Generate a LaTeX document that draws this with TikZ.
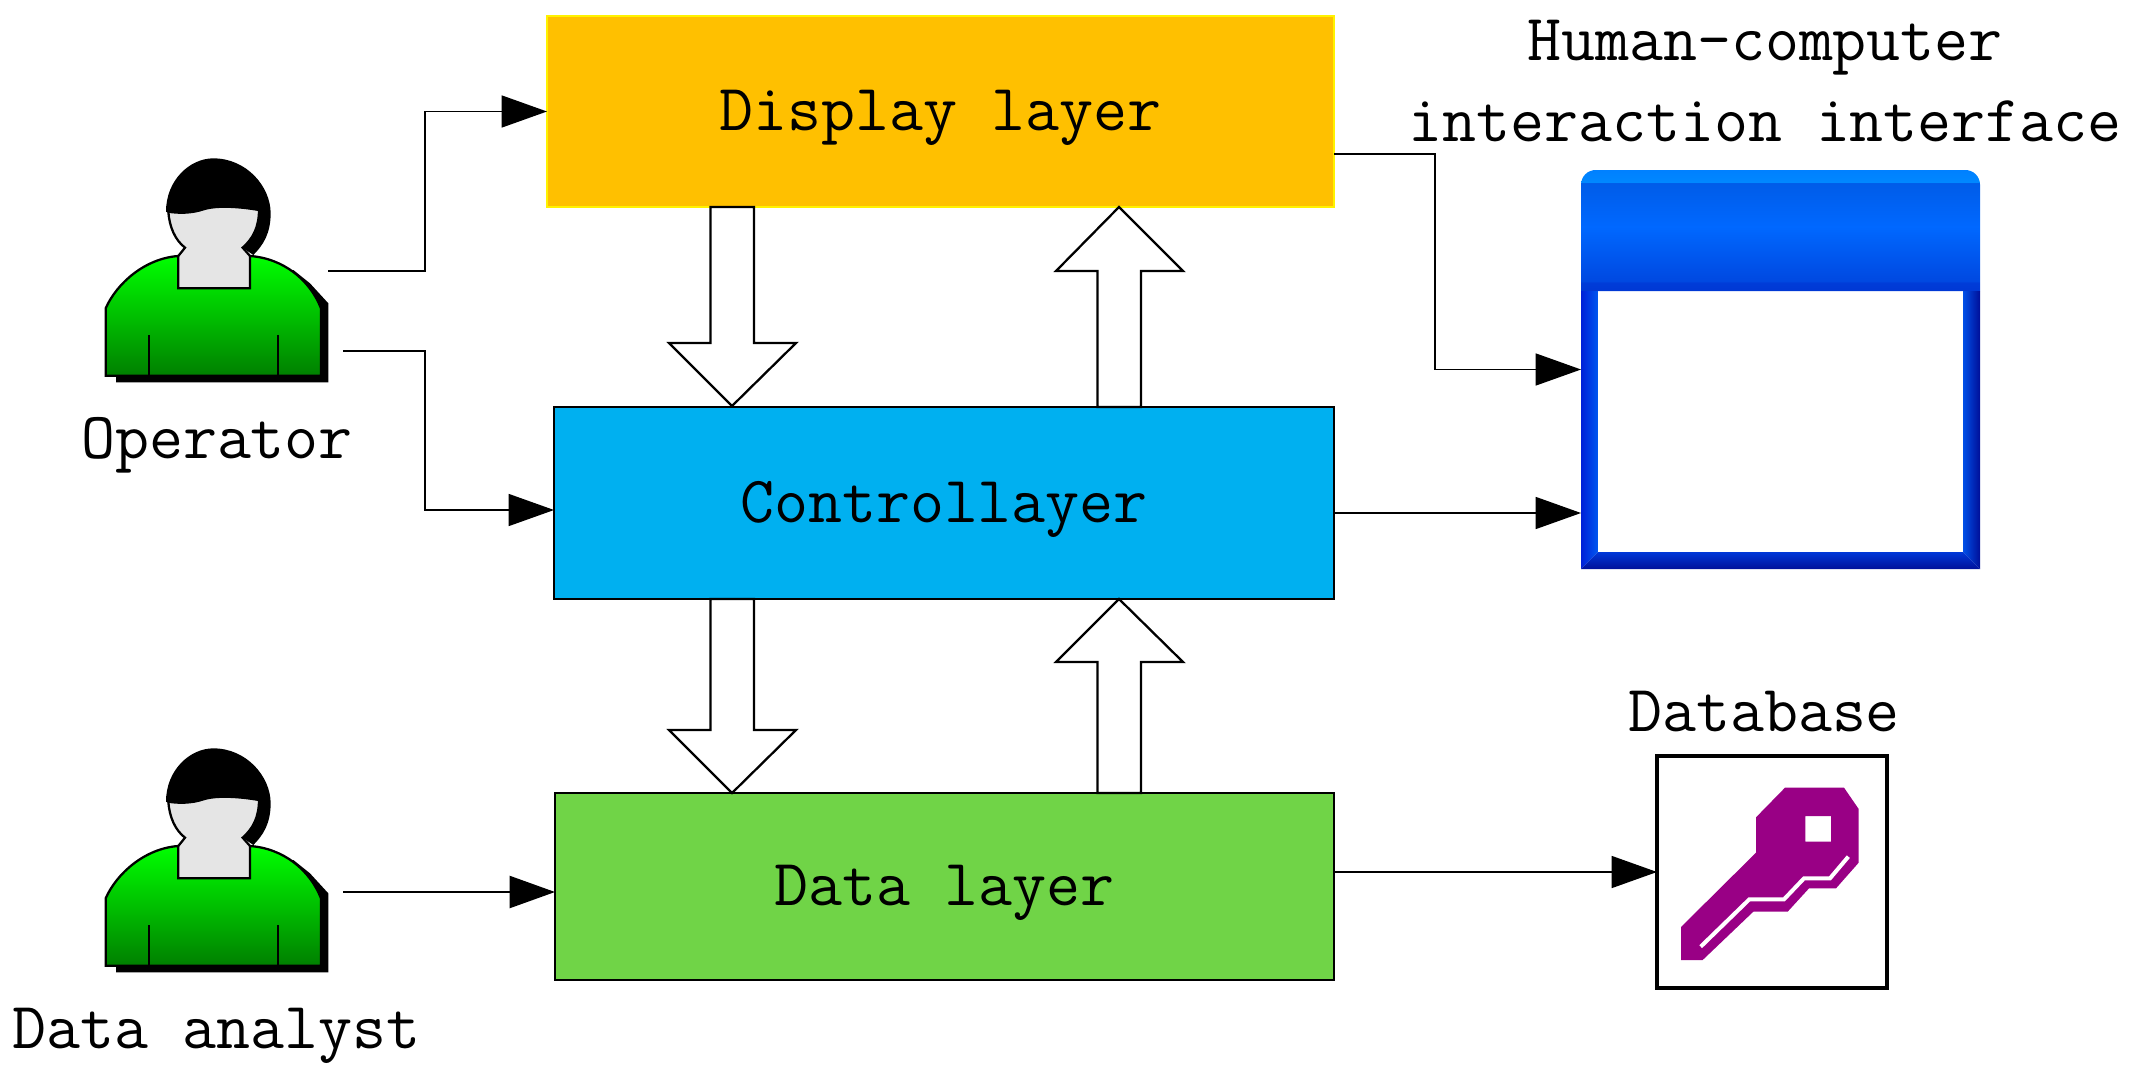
\documentclass[tikz,border=0pt]{standalone}
\usepackage{fontspec}
\usetikzlibrary{arrows.meta}

\newcommand{\pxu}{0.75pt}

\definecolor{displayfill}{HTML}{FFC000}
\definecolor{controlfill}{HTML}{00B0F0}
\definecolor{datafill}{HTML}{70D447}
\definecolor{keyfill}{HTML}{990085}
\definecolor{titlea}{HTML}{0038D4}
\definecolor{titleb}{HTML}{003CD8}
\definecolor{titlec}{HTML}{0048E0}
\definecolor{titled}{HTML}{0068FF}
\definecolor{titlee}{HTML}{005CE8}
\definecolor{titlef}{HTML}{0088FF}
\definecolor{titleg}{HTML}{0080FF}
\definecolor{frameleft}{HTML}{0020D8}
\definecolor{frameleftin}{HTML}{0058F0}
\definecolor{framerightin}{HTML}{0050E8}
\definecolor{frameright}{HTML}{000E98}
\definecolor{framelow}{HTML}{00109A}
\definecolor{framelowin}{HTML}{0038D8}

\pgfdeclareverticalshading{titlebar}{100bp}{%
  color(0bp)=(titlea);
  color(25bp)=(titlea);
  color(28.7bp)=(titleb);
  color(28.8bp)=(titlec);
  color(51.5bp)=(titled);
  color(69.7bp)=(titlee);
  color(69.8bp)=(titlef);
  color(75bp)=(titleg);
  color(100bp)=(titleg)}

\tikzset{
  every node/.style={font=\ttfamily\fontsize{49.5}{60.4}\selectfont, outer sep=0pt, inner sep=0pt},
  layer/.style={draw=black, line width=1.5pt, text height=34pt, text depth=5pt},
  flow/.style={line width=1.1pt, -{Triangle[length=34pt,width=24pt]}},
  blockarrow/.style={draw=black, line width=1.7pt, fill=white, line join=miter},
  person/.pic={
    \begin{scope}[scale=1/3]
      % shadow of the body
      \fill[black] (168,700) -- (168,757) -- (805,757) -- (805,520) -- (750,460) -- (700,420) -- cycle;
      % hair
      \fill[black] (318,245) .. controls (318,150) and (390,85) .. (460,85)
        .. controls (560,85) and (632,170) .. (632,250)
        .. controls (632,310) and (610,345) .. (580,375) -- (548,353) -- (430,300) -- cycle;
      % body
      \shade[top color=green, bottom color=green!50!black, draw=black, line width=1.7pt]
        (137,535) .. controls (170,460) and (255,385) .. (355,378)
        -- (570,378) .. controls (670,385) and (750,450) .. (783,535)
        -- (783,737) -- (137,737) -- cycle;
      \draw[line width=1.7pt] (268,615) -- (268,737);
      \draw[line width=1.7pt] (655,615) -- (655,737);
      % face
      \draw[fill=black!10, line width=1.7pt] (325,245) .. controls (328,290) and (345,330) .. (375,353)
        -- (355,378) -- (355,475) -- (570,475) -- (570,378) -- (548,353)
        .. controls (580,325) and (597,290) .. (597,240)
        .. controls (540,230) and (470,225) .. (430,238)
        .. controls (395,250) and (355,250) .. (325,245) -- cycle;
    \end{scope}
  }
}

\begin{document}
\begin{tikzpicture}[x=\pxu, y=-\pxu]
  \useasboundingbox (0,0) rectangle (2134,1074);

  % ***************** LAYERS *****************
  \node[layer, draw=yellow, fill=displayfill, line width=2pt, minimum width=787*\pxu, minimum height=191*\pxu]
    (display) at (940.5,111.5) {Display layer};
  \node[layer, fill=controlfill, minimum width=780*\pxu, minimum height=192*\pxu]
    (control) at (944,503) {Controllayer};
  \node[layer, fill=datafill, minimum width=779*\pxu, minimum height=187*\pxu]
    (data) at (944.5,886.5) {Data layer};

  % ***************** BLOCK ARROWS *****************
  \foreach \ytop/\ybase/\ytip in {207/343/406, 599/730/793} {
    \draw[blockarrow] (710.5,\ytop) -- (754,\ytop) -- (754,\ybase) -- (796,\ybase)
      -- (732,\ytip) -- (669,\ybase) -- (710.5,\ybase) -- cycle;
  }
  \foreach \ytip/\ybase/\ybot in {207/271/407, 599/662/793} {
    \draw[blockarrow] (1119,\ytip) -- (1183,\ybase) -- (1141,\ybase) -- (1141,\ybot)
      -- (1097.5,\ybot) -- (1097.5,\ybase) -- (1056,\ybase) -- cycle;
  }

  % ***************** OPERATORS *****************
  \pic at (60,130) {person};
  \pic at (60,720) {person};
  \node[anchor=base] (operator) at (217,458) {Operator};
  \node[anchor=base] (analyst) at (216.5,1048) {Data analyst};

  % ***************** WINDOW *****************
  \node[align=center] (hci) at (1765,81) {Human-computer\\interaction interface};
  \node[minimum width=399*\pxu, minimum height=399*\pxu] (window) at (1780.5,369.5) {};
  \shade[shading=titlebar] (1581,291) [rounded corners=11pt] -- (1581,170) -- (1980,170)
    [sharp corners] -- (1980,291) -- cycle;
  \shade[left color=frameleft, right color=frameleftin]
    (1581,291) -- (1598,291) -- (1598,552) -- (1581,569) -- cycle;
  \shade[left color=framerightin, right color=frameright]
    (1963,291) -- (1980,291) -- (1980,569) -- (1963,552) -- cycle;
  \shade[top color=framelowin, bottom color=framelow]
    (1581,569) -- (1598,552) -- (1963,552) -- (1980,569) -- cycle;

  % ***************** DATABASE *****************
  \node[anchor=base] (dbtext) at (1764,731) {Database};
  \node[draw=black, line width=3pt, minimum width=230*\pxu, minimum height=232*\pxu] (dbbox) at (1772,872) {};
  \begin{scope}[shift={(1630,740)}, scale=1/3]
    \fill[keyfill, even odd rule] (465,143) -- (642,143) -- (686,207) -- (686,368) -- (618,445)
      -- (537,445) -- (473,515) -- (370,515) -- (218,660) -- (153,660) -- (153,561)
      -- (378,338) -- (378,232) -- cycle (526,228) rectangle (603,305);
    \draw[white, line width=3pt] (212,620) -- (358,478) -- (462,478) -- (522,415) -- (600,415) -- (655,350);
  \end{scope}

  % ***************** CONNECTORS *****************
  \coordinate (opera) at (328,271);
  \coordinate (operb) at (343,351);
  \coordinate (anal) at (343,892);
  \coordinate (bendl) at (425,300);
  \coordinate (ctrlin) at (554,510);
  \coordinate (dispout) at (1334,154);
  \coordinate (bendr) at (1435,300);
  \coordinate (ctrlout) at (1334,513);
  \coordinate (winlow) at (1581,513);
  \coordinate (dataout) at (1334,872);
  \coordinate (datain) at (555,892);

  \draw[flow] (opera) -- (opera -| bendl) |- (display.west);
  \draw[flow] (operb) -- (operb -| bendl) |- (ctrlin);
  \draw[flow, line width=1.7pt] (anal) -- (datain);
  \draw[flow] (dispout) -- (dispout -| bendr) |- (window.west);
  \draw[flow] (ctrlout) -- (winlow);
  \draw[flow] (dataout) -- (dbbox.west);

\end{tikzpicture}
\end{document}
